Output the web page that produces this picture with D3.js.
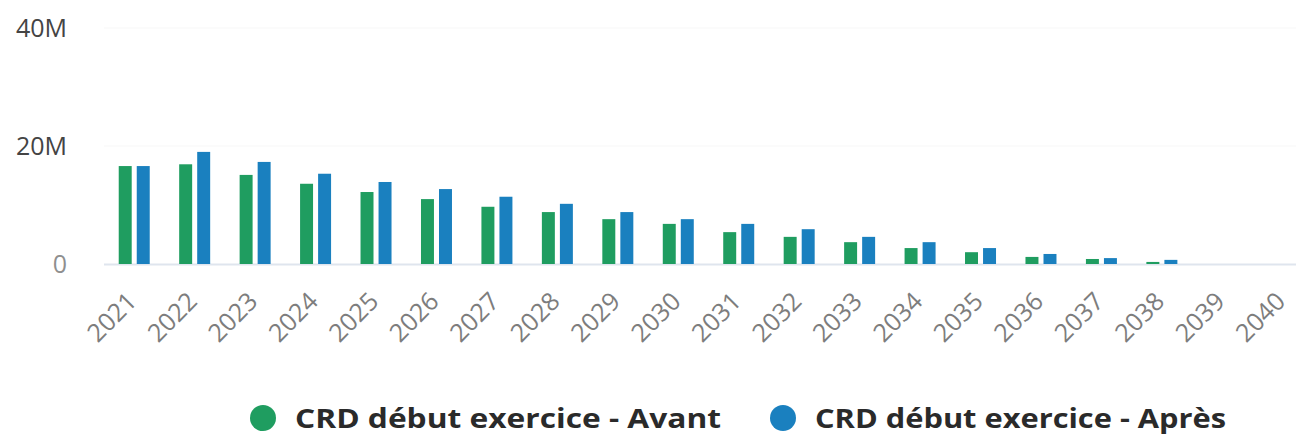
<!DOCTYPE html>
<html>
<head>
<meta charset="utf-8">
<script src="https://cdn.jsdelivr.net/npm/d3@7"></script>
<style>
  html, body { margin: 0; padding: 0; background: #fff; }
  svg { display: block; font-family: "Open Sans", "Noto Sans", sans-serif; }
</style>
</head>
<body>
<script>
// Chart data (values in millions)
var years = ["2021","2022","2023","2024","2025","2026","2027","2028","2029","2030",
             "2031","2032","2033","2034","2035","2036","2037","2038","2039","2040"];
var avant = [16.6, 16.9, 15.1, 13.6, 12.2, 11.0, 9.7, 8.8, 7.6, 6.8,
             5.4, 4.6, 3.7, 2.7, 2.0, 1.2, 0.85, 0.35, 0, 0];
var apres = [16.6, 19.0, 17.3, 15.3, 13.9, 12.7, 11.4, 10.2, 8.8, 7.6,
             6.8, 5.9, 4.6, 3.7, 2.7, 1.7, 1.0, 0.7, 0, 0];
var seriesNames = ["CRD début exercice - Avant", "CRD début exercice - Après"];
var yTicks = [0, 20, 40];

var colors = ["#1f9d60", "#1a80bf"];

function drawChart () {
    var width = 1296, height = 438;

    var svg = d3.select("body").append("svg")
        .attr("width", width)
        .attr("height", height);

    ////////////////////////////
    // Scales
    var x0 = d3.scaleBand()
        .domain(years)
        .range([104, 1313]);

    var x1 = d3.scaleBand()
        .domain([0, 1])
        .range([0, 31])
        .paddingInner(0.28);

    var y = d3.scaleLinear()
        .domain([0, 40])
        .range([264, 28]);

    ////////////////////////////
    // Gridlines + baseline
    svg.selectAll("line.grid")
        .data(yTicks.filter(function(d) { return d > 0; }))
        .enter()
        .append("line")
        .attr("class", "grid")
        .attr("x1", 104).attr("x2", width)
        .attr("y1", function(d) { return y(d); })
        .attr("y2", function(d) { return y(d); })
        .attr("stroke", "#f7f7f7")
        .attr("stroke-width", 1);

    svg.append("line")
        .attr("x1", 104).attr("x2", width)
        .attr("y1", y(0) + 0.5).attr("y2", y(0) + 0.5)
        .attr("stroke", "#dfe5ee")
        .attr("stroke-width", 2);

    ////////////////////////////
    // Y axis labels
    svg.selectAll("text.ylab")
        .data(yTicks)
        .enter()
        .append("text")
        .attr("class", "ylab")
        .attr("x", 67)
        .attr("y", function(d) { return y(d) + 9; })
        .attr("text-anchor", "end")
        .attr("font-size", "25px")
        .attr("fill", function(d) { return d === 0 ? "#8f8f8f" : "#444"; })
        .text(function(d) { return d === 0 ? "0" : d + "M"; });

    ////////////////////////////
    // Bars
    var groups = svg.selectAll("g.year")
        .data(years)
        .enter()
        .append("g")
        .attr("class", "year")
        .attr("transform", function(d) {
            return "translate(" + (x0(d) + x0.bandwidth() / 2 - 15.5) + ",0)";
        });

    groups.selectAll("rect")
        .data(function(d, i) { return [avant[i], apres[i]]; })
        .enter()
        .append("rect")
        .attr("x", function(d, j) { return x1(j); })
        .attr("y", function(d) { return y(d); })
        .attr("width", x1.bandwidth())
        .attr("height", function(d) { return y(0) - y(d); })
        .attr("fill", function(d, j) { return colors[j]; });

    ////////////////////////////
    // X axis labels (rotated)
    svg.selectAll("text.xlab")
        .data(years)
        .enter()
        .append("text")
        .attr("class", "xlab")
        .attr("text-anchor", "end")
        .attr("font-size", "25px")
        .attr("fill", "#7d7d7d")
        .attr("transform", function(d) {
            return "translate(" + (x0(d) + x0.bandwidth() / 2 + 4) + ",303) rotate(-45)";
        })
        .text(function(d) { return d; });

    ////////////////////////////
    // Legend
    var legendItems = [
        { cx: 263, tx: 295, w: 426 },
        { cx: 783, tx: 815, w: 411 }
    ];

    var legend = svg.selectAll("g.legend")
        .data(seriesNames)
        .enter()
        .append("g")
        .attr("class", "legend");

    legend.append("circle")
        .attr("cx", function(d, i) { return legendItems[i].cx; })
        .attr("cy", 418)
        .attr("r", 13)
        .attr("fill", function(d, i) { return colors[i]; });

    legend.append("text")
        .attr("x", function(d, i) { return legendItems[i].tx; })
        .attr("y", 428)
        .attr("font-size", "26px")
        .attr("font-weight", "bold")
        .attr("fill", "#2a2a2a")
        .attr("textLength", function(d, i) { return legendItems[i].w; })
        .attr("lengthAdjust", "spacingAndGlyphs")
        .text(function(d) { return d; });
}

drawChart();
</script>
</body>
</html>
